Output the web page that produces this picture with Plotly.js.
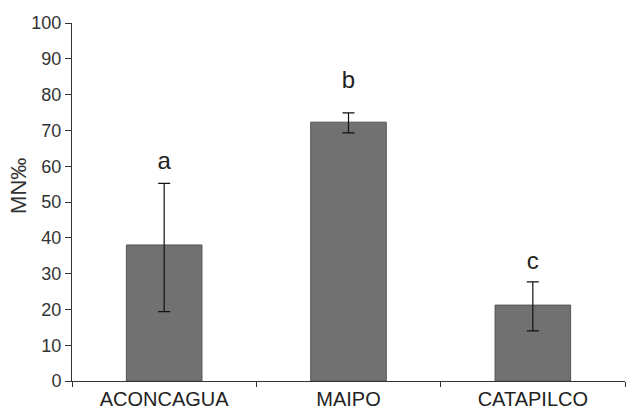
<!DOCTYPE html>
<html>
<head>
<meta charset="utf-8">
<script src="https://cdn.plot.ly/plotly-3.0.1.min.js"></script>
<style>html,body{margin:0;padding:0;background:#fff;}#chart{width:631px;height:412px;}</style>
</head>
<body>
<div id="chart"></div>
<script>
const categories = ["ACONCAGUA", "MAIPO", "CATAPILCO"];
const values = [38, 72.3, 21.2];
const errPlus = [17.2, 2.6, 6.5];
const errMinus = [18.6, 3.0, 7.2];
const letters = ["a", "b", "c"];
const letterY = [61, 83.6, 33];
const yTicks = [0, 10, 20, 30, 40, 50, 60, 70, 80, 90, 100];
const yTitle = "MN‰";

const bars = {
  type: "bar",
  x: categories,
  y: values,
  width: 0.41,
  marker: {color: "#717171", line: {color: "#555555", width: 1}},
  error_y: {type: "data", symmetric: false, array: errPlus, arrayminus: errMinus,
            color: "#111111", thickness: 1.2, width: 6},
  hoverinfo: "skip"
};
const labels = {
  type: "scatter",
  mode: "text",
  x: categories,
  y: letterY,
  text: letters,
  textfont: {family: "Liberation Sans, Arial, sans-serif", size: 24, color: "#222222"},
  hoverinfo: "skip"
};

const layout = {
  width: 631, height: 412,
  margin: {l: 72, r: 6, t: 23, b: 31},
  paper_bgcolor: "#ffffff", plot_bgcolor: "#ffffff",
  showlegend: false,
  font: {family: "Liberation Sans, Arial, sans-serif", color: "#333333"},
  xaxis: {
    type: "category",
    tickson: "boundaries",
    ticks: "outside", ticklen: 5, tickcolor: "#333333",
    showline: true, linecolor: "#333333", linewidth: 1,
    showgrid: false, zeroline: false,
    tickfont: {size: 20, color: "#222222"},
    ticklabelstandoff: 0,
    range: [-0.5, 2.5]
  },
  yaxis: {
    range: [0, 100],
    tickvals: yTicks,
    ticks: "outside", ticklen: 6, tickcolor: "#333333",
    showline: true, linecolor: "#333333", linewidth: 1,
    showgrid: false, zeroline: false,
    tickfont: {size: 18, color: "#333333"}
  },
  annotations: [{
    text: yTitle, textangle: -90, showarrow: false,
    xref: "paper", x: 0, xshift: -53, xanchor: "center",
    yref: "y", y: 54.5, yanchor: "middle",
    font: {family: "Liberation Sans, Arial, sans-serif", size: 22, color: "#333333"}
  }]
};

Plotly.newPlot("chart", [bars, labels], layout, {displayModeBar: false, staticPlot: true});
</script>
</body>
</html>
